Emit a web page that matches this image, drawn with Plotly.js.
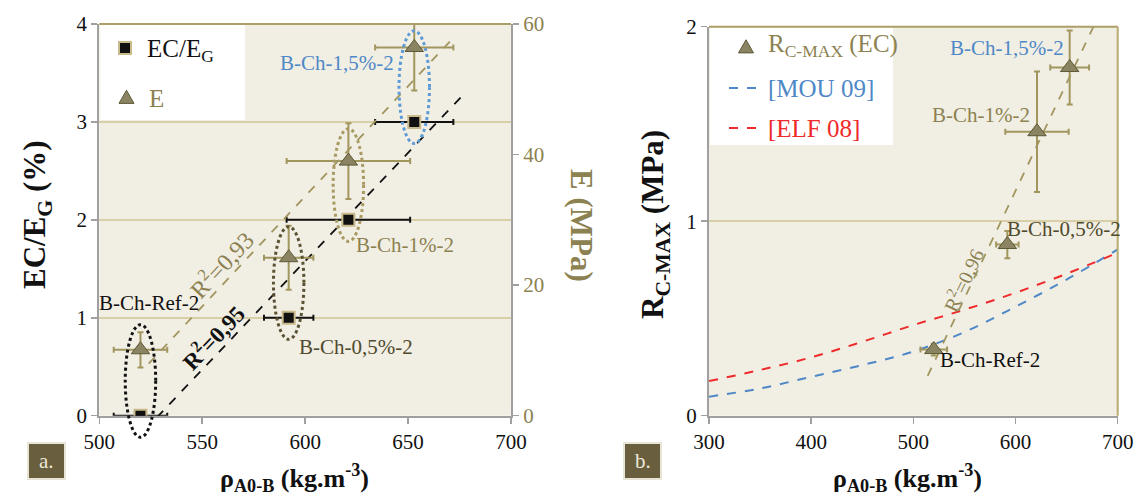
<!DOCTYPE html>
<html><head><meta charset="utf-8">
<script src="https://cdn.plot.ly/plotly-3.0.1.min.js"></script>
<style>html,body{margin:0;padding:0;background:#fff;}#chart{width:1137px;height:497px;}</style>
</head><body><div id="chart"></div>
<script>
// ---------- data ----------
const sampleLabels = ['B-Ch-Ref-2', 'B-Ch-0,5%-2', 'B-Ch-1%-2', 'B-Ch-1,5%-2'];
const rho = [520, 592, 621, 653];
const rhoErr = [13, 12, 30, 19];
const ecEg = [0, 1, 2, 3];
const modulusE = [10.1, 24.2, 39.0, 56.4];
const modulusEErr = [2.7, 4.9, 5.8, 6.6];
const rcMax = [0.34, 0.88, 1.46, 1.79];
const rcMaxErr = [0.03, 0.07, 0.31, 0.19];
const rhoErrRc = [13, 11, 31, 19];
const rhoCurve = [300, 350, 400, 450, 500, 550, 600, 650, 700];
const mou09 = [0.098, 0.14, 0.20, 0.26, 0.33, 0.43, 0.56, 0.70, 0.855];
const elf08 = [0.178, 0.235, 0.30, 0.38, 0.466, 0.545, 0.632, 0.73, 0.838];
const trendSpanEc = [528, 678];
const trendSpanE = [524, 673];
const trendSpanRc = [514, 678];
const r2Texts = ['R<sup>2</sup>=0,95', 'R<sup>2</sup>=0,93', 'R<sup>2</sup>=0,96'];

// ---------- geometry / style ----------
const W = 1137, H = 497;
const L = {x0: 99.3, x1: 511, y0: 24, y1: 415.7, xr: [500, 700], yr: [0, 4], y2r: [0, 60]};
const R = {x0: 709, x1: 1117.7, y0: 26.7, y1: 415.7, xr: [300, 700], yr: [0, 2]};
const FONT = 'Liberation Serif, DejaVu Serif, serif';
const TAN = '#a2965f', TANTXT = '#8c8150', DARK = '#4f4a2c', BLUE = '#4f88c6', RED = '#ee2a2a';
const GRID = '#d8cfa6', AXIS = '#a0a0a0', BG = '#f1eee4';

const px2pX = p => p / W, px2pY = p => 1 - p / H;
function dataPx(P, xv, yv, yr) {
  return [P.x0 + (xv - P.xr[0]) / (P.xr[1] - P.xr[0]) * (P.x1 - P.x0),
          P.y1 - (yv - yr[0]) / (yr[1] - yr[0]) * (P.y1 - P.y0)];
}
function fit(xs, ys) {
  const n = xs.length, mx = xs.reduce((a, b) => a + b) / n, my = ys.reduce((a, b) => a + b) / n;
  let sxy = 0, sxx = 0;
  xs.forEach((x, i) => { sxy += (x - mx) * (ys[i] - my); sxx += (x - mx) ** 2; });
  const b = sxy / sxx; return x => my + b * (x - mx);
}
const fEc = fit(rho, ecEg), fE = fit(rho, modulusE), fRc = fit(rho, rcMax);

const traces = [
  {x: trendSpanEc, y: trendSpanEc.map(fEc), mode: 'lines', line: {color: '#111', dash: 'dash', width: 1.8}, xaxis: 'x', yaxis: 'y', hoverinfo: 'skip'},
  {x: trendSpanE, y: trendSpanE.map(fE), mode: 'lines', line: {color: TAN, dash: 'dash', width: 1.8}, xaxis: 'x', yaxis: 'y2', hoverinfo: 'skip'},
  {x: rho, y: ecEg, mode: 'markers', xaxis: 'x', yaxis: 'y',
   error_x: {type: 'data', array: rhoErr, color: '#111', thickness: 2, width: 3},
   marker: {symbol: 'square', size: 12, color: '#111', line: {color: '#c9ba8b', width: 2}}},
  {x: rho, y: modulusE, mode: 'markers', xaxis: 'x', yaxis: 'y2',
   error_x: {type: 'data', array: rhoErr, color: TAN, thickness: 2, width: 3},
   error_y: {type: 'data', array: modulusEErr, color: TAN, thickness: 2, width: 3},
   marker: {symbol: 'triangle-up', size: 16, color: '#8a8462', line: {color: '#5d5836', width: 1}}},
  {x: rhoCurve, y: mou09, mode: 'lines', line: {color: BLUE, dash: 'dash', width: 2, shape: 'spline'}, xaxis: 'x2', yaxis: 'y3'},
  {x: rhoCurve, y: elf08, mode: 'lines', line: {color: RED, dash: 'dash', width: 2, shape: 'spline'}, xaxis: 'x2', yaxis: 'y3'},
  {x: trendSpanRc, y: trendSpanRc.map(fRc), mode: 'lines', line: {color: TAN, dash: 'dash', width: 1.8}, xaxis: 'x2', yaxis: 'y3', hoverinfo: 'skip'},
  {x: rho, y: rcMax, mode: 'markers', xaxis: 'x2', yaxis: 'y3',
   error_x: {type: 'data', array: rhoErrRc, color: TAN, thickness: 2, width: 3},
   error_y: {type: 'data', array: rcMaxErr, color: TAN, thickness: 2, width: 3},
   marker: {symbol: 'triangle-up', size: 16, color: '#8a8462', line: {color: '#5d5836', width: 1}}}
];

const tickFont = {family: FONT, size: 21, color: '#111'};
const baseAx = {showline: true, linecolor: AXIS, linewidth: 2, ticks: 'outside', tickcolor: AXIS, ticklen: 6, tickwidth: 1.5,
  tickfont: tickFont, zeroline: false, automargin: false, fixedrange: true};

const shapes = [];
const annotations = [];
// plot frame top/right lines
shapes.push({type: 'line', xref: 'paper', yref: 'paper', x0: px2pX(L.x0), x1: px2pX(L.x1), y0: px2pY(L.y0), y1: px2pY(L.y0), line: {color: '#ab9e66', width: 2}, layer: 'above'});
shapes.push({type: 'line', xref: 'paper', yref: 'paper', x0: px2pX(R.x0), x1: px2pX(R.x1), y0: px2pY(R.y0), y1: px2pY(R.y0), line: {color: '#ab9e66', width: 2}, layer: 'above'});
shapes.push({type: 'line', xref: 'paper', yref: 'paper', x0: px2pX(R.x1), x1: px2pX(R.x1), y0: px2pY(R.y0), y1: px2pY(R.y1), line: {color: '#b9ab72', width: 2}, layer: 'above'});

// legend boxes
shapes.push({type: 'rect', xref: 'paper', yref: 'paper', x0: px2pX(L.x0 + 1), x1: px2pX(245), y0: px2pY(120), y1: px2pY(L.y0 + 1), fillcolor: '#fff', line: {width: 0}, layer: 'below'});
shapes.push({type: 'rect', xref: 'paper', yref: 'paper', x0: px2pX(R.x0 + 1), x1: px2pX(893), y0: px2pY(145), y1: px2pY(R.y0 + 1), fillcolor: '#fff', line: {width: 0}, layer: 'below'});
// legend symbols
shapes.push({type: 'rect', xref: 'paper', yref: 'paper', x0: px2pX(119), x1: px2pX(131), y0: px2pY(54), y1: px2pY(42), fillcolor: '#111', line: {color: '#c9ba8b', width: 2}, layer: 'above'});
function tri(cx, cy, s) {
  const pts = [[cx - s, cy + s * 0.85], [cx + s, cy + s * 0.85], [cx, cy - s * 0.9]];
  return 'M' + pts.map(p => px2pX(p[0]) + ',' + px2pY(p[1])).join('L') + 'Z';
}
shapes.push({type: 'path', xref: 'paper', yref: 'paper', path: tri(126.5, 97, 7.5), fillcolor: '#8a8462', line: {color: '#5d5836', width: 1}, layer: 'above'});
shapes.push({type: 'path', xref: 'paper', yref: 'paper', path: tri(746, 46.5, 7.5), fillcolor: '#8a8462', line: {color: '#5d5836', width: 1}, layer: 'above'});
shapes.push({type: 'line', xref: 'paper', yref: 'paper', x0: px2pX(729), x1: px2pX(763), y0: px2pY(88), y1: px2pY(88), line: {color: BLUE, width: 2, dash: 'dash'}, layer: 'above'});
shapes.push({type: 'line', xref: 'paper', yref: 'paper', x0: px2pX(729), x1: px2pX(763), y0: px2pY(128), y1: px2pY(128), line: {color: RED, width: 2, dash: 'dash'}, layer: 'above'});

function annPx(x, y, text, size, color, opts) {
  annotations.push(Object.assign({xref: 'paper', yref: 'paper', x: px2pX(x), y: px2pY(y), text: text, showarrow: false,
    font: {family: FONT, size: size, color: color}, xanchor: 'center', yanchor: 'middle'}, opts || {}));
}
annPx(145, 50, 'EC/E<sub>G</sub>', 25, '#111', {xanchor: 'left'});
annPx(147, 99, 'E', 25, TANTXT, {xanchor: 'left'});
annPx(766, 46, 'R<sub>C-MAX</sub> (EC)', 25, TANTXT, {xanchor: 'left'});
annPx(766, 88, '[MOU 09]', 25, BLUE, {xanchor: 'left'});
annPx(766, 128, '[ELF 08]', 25, RED, {xanchor: 'left'});

// ellipses around sample groups (left panel)
const ellColors = ['#111', '#5a5232', '#a89a60', '#5c9bd5'];
rho.forEach((xv, i) => {
  const a = dataPx(L, xv - 7.4, ecEg[i] - 0.22, L.yr), b = dataPx(L, xv + 7.4, ecEg[i] + 0.93, L.yr);
  shapes.push({type: 'circle', xref: 'paper', yref: 'paper', x0: px2pX(a[0]), x1: px2pX(b[0]), y0: px2pY(a[1]), y1: px2pY(b[1]),
    line: {color: ellColors[i], width: 3, dash: 'dot'}, layer: 'above'});
});

// sample labels
const labColors = ['#111', DARK, TANTXT, BLUE];
const labLeft = [[149, 303], [356, 347], [405, 245], [337, 63]];
const labRight = [[990, 360], [1064, 229], [981, 115], [1007, 48]];
sampleLabels.forEach((t, i) => {
  annPx(labLeft[i][0], labLeft[i][1], t, 21, labColors[i]);
  annPx(labRight[i][0], labRight[i][1], t, 21, labColors[i]);
});

// R2 labels
annotations.push({xref: 'x', yref: 'y', x: 555, y: 0.8, text: '<b>' + r2Texts[0] + '</b>', showarrow: false, textangle: -46.4,
  font: {family: FONT, size: 23, color: '#111'}});
annotations.push({xref: 'x', yref: 'y2', x: 559, y: 23.2, text: r2Texts[1], showarrow: false, textangle: -47,
  font: {family: FONT, size: 24, color: TANTXT}});
annotations.push({xref: 'x2', yref: 'y3', x: 548, y: 0.70, text: r2Texts[2], showarrow: false, textangle: -64.7,
  font: {family: FONT, size: 20, color: TANTXT}});

// axis titles
annPx(37, 215, '<b>EC/E<sub>G</sub> (%)</b>', 31, '#111', {textangle: -90});
annPx(581, 225, '<b>E (MPa)</b>', 31, TANTXT, {textangle: 90});
annPx(655, 225, '<b>R<sub>C-MAX</sub> (MPa)</b>', 31, '#111', {textangle: -90});
annPx(294, 478, '<b>ρ<sub>A0-B</sub> (kg.m<sup>-3</sup>)</b>', 26, '#111');
annPx(907, 478, '<b>ρ<sub>A0-B</sub> (kg.m<sup>-3</sup>)</b>', 26, '#111');

// panel tags
shapes.push({type: 'rect', xref: 'paper', yref: 'paper', x0: px2pX(28), x1: px2pX(65), y0: px2pY(479), y1: px2pY(443), fillcolor: '#695f3e', line: {color: '#e9e5d6', width: 2}, layer: 'above'});
shapes.push({type: 'rect', xref: 'paper', yref: 'paper', x0: px2pX(624), x1: px2pX(661), y0: px2pY(479), y1: px2pY(443), fillcolor: '#695f3e', line: {color: '#e9e5d6', width: 2}, layer: 'above'});
annPx(46.5, 461, 'a.', 21, '#ece8da');
annPx(642.5, 461, 'b.', 21, '#ece8da');

const layout = {
  width: W, height: H, margin: {l: 0, r: 0, t: 0, b: 0}, paper_bgcolor: '#fff', plot_bgcolor: BG, showlegend: false,
  font: {family: FONT},
  xaxis: Object.assign({}, baseAx, {domain: [L.x0 / W, L.x1 / W], range: L.xr, tickvals: [500, 550, 600, 650, 700], showgrid: false, anchor: 'y'}),
  yaxis: Object.assign({}, baseAx, {domain: [1 - L.y1 / H, 1 - L.y0 / H], range: L.yr, tickvals: [0, 1, 2, 3, 4], showgrid: true, gridcolor: GRID, gridwidth: 1.5, anchor: 'x'}),
  yaxis2: Object.assign({}, baseAx, {overlaying: 'y', side: 'right', anchor: 'x', range: L.y2r, tickvals: [0, 20, 40, 60], showgrid: false,
    tickfont: {family: FONT, size: 21, color: TANTXT}}),
  xaxis2: Object.assign({}, baseAx, {domain: [R.x0 / W, R.x1 / W], range: R.xr, tickvals: [300, 400, 500, 600, 700], showgrid: false, anchor: 'y3'}),
  yaxis3: Object.assign({}, baseAx, {domain: [1 - R.y1 / H, 1 - R.y0 / H], range: R.yr, tickvals: [0, 1, 2], showgrid: true, gridcolor: GRID, gridwidth: 1.5, anchor: 'x2'}),
  shapes: shapes, annotations: annotations
};
Plotly.newPlot('chart', traces, layout, {staticPlot: true, displayModeBar: false});
</script></body></html>
